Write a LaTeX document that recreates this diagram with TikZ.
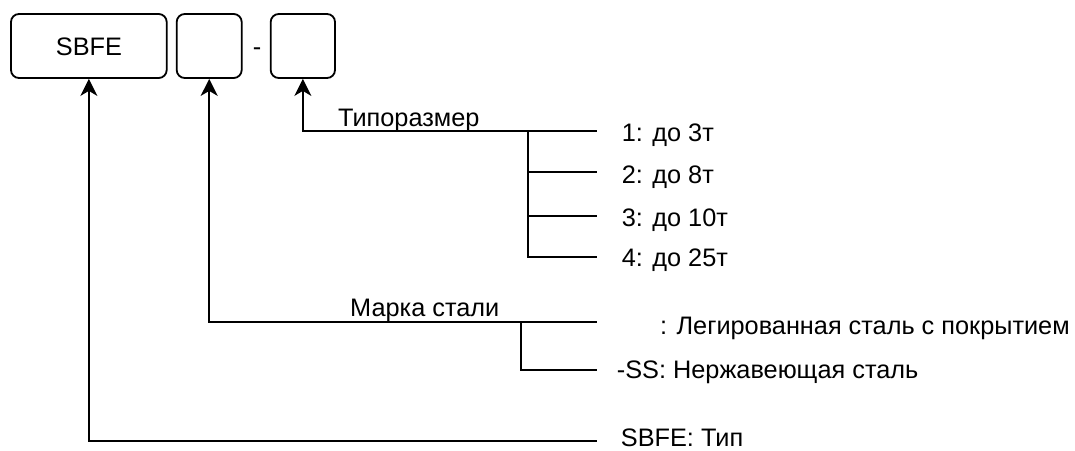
\documentclass[tikz,border=0pt]{standalone}
\usepackage{fontspec}
\setmainfont{Liberation Sans}
\usetikzlibrary{arrows.meta}
\begin{document}
\begin{tikzpicture}[x=1pt,y=-1pt,
  codebox/.style={draw, line width=1.8pt, rounded corners=8pt, inner sep=0pt},
  txt/.style={inner sep=0pt, anchor=base west, font=\fontsize{25.3}{30}\selectfont},
  ln/.style={line width=1.8pt},
  arr/.style={line width=1.8pt, -{Stealth[length=17pt, width=17pt, inset=5pt]}}
]
\useasboundingbox (0,0) rectangle (1075,450);
% boxes
\node[codebox, minimum width=155.7pt, minimum height=64pt] (b1) at (88.85,46) {};
\node[txt, anchor=base] (sbfe) at (89,55.5) {SBFE};
\node[codebox, minimum width=65pt, minimum height=64pt] (b2) at (209.2,46) {};
\node[txt, anchor=base] (dash) at (257,55.5) {-};
\node[codebox, minimum width=64.3pt, minimum height=64pt] (b3) at (302.85,46) {};
% Типоразмер group
\node[txt] (tlab) at (338,126) {Типоразмер};
\coordinate (t1) at (596.7,130.7);
\coordinate (tj) at (528.3,130.7);
\coordinate (t2) at (596.7,172.3);
\coordinate (t3) at (596.7,216);
\coordinate (t4) at (596.7,256.7);
\draw[arr] (t1) -| (b3.south);
\draw[ln] (tj) |- (t4);
\draw[ln] (tj |- t2) -- (t2);
\draw[ln] (tj |- t3) -- (t3);
\node[txt] (l1) at (621.7,141) {1: до 3т};
\node[txt] (l2) at (621.7,183.5) {2: до 8т};
\node[txt] (l3) at (621.7,226.5) {3: до 10т};
\node[txt] (l4) at (621.7,266.5) {4: до 25т};
% Марка стали group
\node[txt] (mlab) at (350,316.7) {Марка стали};
\coordinate (m1) at (596.7,322.3);
\coordinate (mj) at (520.7,322.3);
\coordinate (m2) at (596.7,370);
\draw[arr] (m1) -| (b2.south);
\draw[ln] (mj) |- (m2);
\node[txt] (ml1) at (660,334) {: Легированная сталь с покрытием};
\node[txt] (ml2) at (616.7,378) {-SS: Нержавеющая сталь};
% Тип
\coordinate (s1) at (596.7,440.7);
\draw[arr] (s1) -| (b1.south);
\node[txt] (sl) at (620.7,446.5) {SBFE: Тип};
\end{tikzpicture}
\end{document}
